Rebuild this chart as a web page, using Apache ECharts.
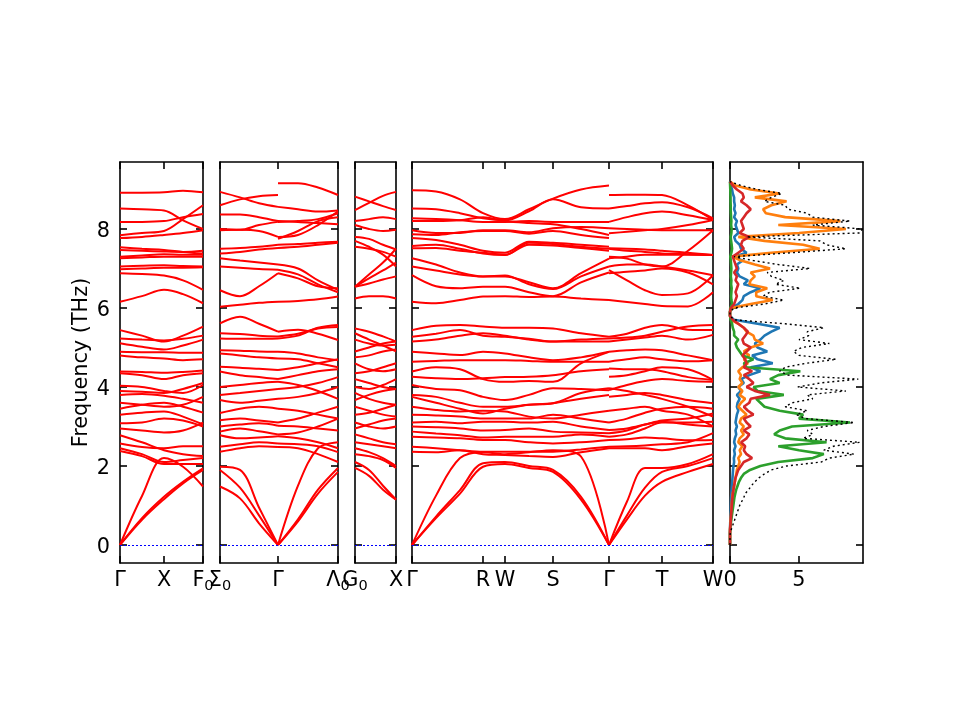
<!DOCTYPE html>
<html>
<head>
<meta charset="utf-8">
<script src="https://cdn.jsdelivr.net/npm/echarts@6/dist/echarts.min.js"></script>
<style>
  html, body { margin: 0; background: #fff; }
  #chart { width: 960px; height: 720px; }
</style>
</head>
<body>
<div id="chart"></div>
<script>
// frequency axis
const freqTicks = [0, 2, 4, 6, 8];

// high-symmetry points (path distance) and their labels, one list per panel
// labels use "{m|..}{s|..}" so the trailing index is drawn as a subscript
const p1Ticks = [0, 0.44, 0.83];
const p1Labels = ['{m|Γ}', '{m|X}', '{m|F}{s|0}'];
const p2Ticks = [0, 0.58, 1.18];
const p2Labels = ['{m|Σ}{s|0}', '{m|Γ}', '{m|Λ}{s|0}'];
const p3Ticks = [0, 0.41];
const p3Labels = ['{m|G}{s|0}', '{m|X}'];
const p4Ticks = [0, 0.71, 0.93, 1.41, 1.97, 2.50, 3.01];
const p4Labels = ['{m|Γ}', '{m|R}', '{m|W}', '{m|S}', '{m|Γ}', '{m|T}', '{m|W}'];
const dosTicks = [0, 5];
const dosLabels = ['{m|0}', '{m|5}'];

// sampled k points for each path segment
const kA = [0, 0.22, 0.44, 0.63, 0.83];          // Γ - X - F0
const kB = [0, 0.20, 0.39, 0.58];                // Σ0 - Γ
const kC = [0.58, 0.78, 0.98, 1.18];             // Γ - Λ0
const kD = [0, 0.14, 0.28, 0.41];                // G0 - X
const kE = [0, 0.24, 0.48, 0.71, 0.93, 1.17, 1.41, 1.69, 1.97]; // Γ-R-W-S-Γ
const kF = [1.97, 2.15, 2.33, 2.50, 2.76, 3.01]; // Γ - T - W

// band frequencies (THz), one row per band
const bandsA = [
  [8.92, 8.92, 8.93, 8.97, 8.93], [8.52, 8.5, 8.47, 8.22, 8.0], [8.18, 8.18, 8.2, 8.3, 8.38],
  [7.84, 7.9, 7.95, 8.25, 8.6], [7.77, 7.8, 7.85, 7.9, 7.97], [7.54, 7.5, 7.47, 7.42, 7.38],
  [7.47, 7.45, 7.43, 7.42, 7.45], [7.3, 7.33, 7.36, 7.35, 7.35], [7.26, 7.28, 7.3, 7.3, 7.3],
  [7.05, 7.07, 7.08, 7.06, 7.05], [6.98, 7.0, 7.02, 7.02, 7.03], [6.88, 6.86, 6.82, 6.7, 6.46],
  [6.16, 6.3, 6.46, 6.35, 6.12],
  [5.44, 5.3, 5.15, 5.3, 5.53], [5.23, 5.2, 5.18, 5.22, 5.3], [5.11, 5.02, 4.95, 5.05, 5.2],
  [4.89, 4.88, 4.88, 4.87, 4.87], [4.8, 4.75, 4.72, 4.68, 4.7], [4.39, 4.38, 4.36, 4.38, 4.42],
  [4.35, 4.3, 4.2, 4.3, 4.35], [4.03, 4.0, 3.9, 3.85, 4.05], [3.9, 3.88, 3.85, 3.95, 4.1],
  [3.8, 3.82, 3.78, 3.7, 3.6], [3.6, 3.55, 3.5, 3.55, 3.75], [3.45, 3.55, 3.6, 3.5, 3.35],
  [3.3, 3.35, 3.38, 3.25, 3.05], [3.08, 3.1, 3.2, 3.15, 3.0], [2.95, 2.9, 2.85, 2.9, 3.1],
  [2.78, 2.6, 2.4, 2.3, 2.25], [2.57, 2.48, 2.45, 2.5, 2.5], [2.45, 2.3, 2.1, 2.15, 2.2],
  [2.38, 2.25, 2.05, 2.05, 2.05],
  [0, 1.24, 2.2, 1.98, 1.48], [0, 0.68, 1.22, 1.6, 1.94], [0, 0.64, 1.16, 1.56, 1.9]
];
const bandsB = [
  [8.94, 8.8, 8.65, 8.56], [8.6, 8.75, 8.83, 8.86], [8.37, 8.37, 8.3, 8.2], [8.0, 7.98, 8.1, 8.18],
  [7.97, 7.98, 7.95, 7.8], [7.5, 7.52, 7.55, 7.6], [7.38, 7.42, 7.48, 7.52], [7.26, 7.2, 7.15, 7.1],
  [7.05, 7.02, 6.99, 6.97], [6.45, 6.3, 6.55, 6.88], [6.03, 6.08, 6.13, 6.16],
  [5.61, 5.78, 5.6, 5.4], [5.36, 5.34, 5.3, 5.28], [5.23, 5.22, 5.22, 5.23], [4.93, 4.92, 4.9, 4.89],
  [4.85, 4.8, 4.75, 4.72], [4.51, 4.49, 4.46, 4.43], [4.39, 4.3, 4.25, 4.2], [4.0, 4.05, 4.1, 4.13],
  [3.8, 3.85, 3.9, 3.95], [3.67, 3.6, 3.65, 3.7], [3.34, 3.45, 3.5, 3.45], [3.16, 3.2, 3.15, 3.1],
  [3.0, 3.05, 3.08, 3.02], [2.87, 2.95, 2.88, 2.8], [2.78, 2.7, 2.72, 2.75], [2.49, 2.55, 2.6, 2.57],
  [2.36, 2.45, 2.5, 2.48],
  [1.98, 1.9, 0.95, 0], [1.9, 1.45, 0.75, 0], [1.48, 1.18, 0.55, 0]
];
const bandsC = [
  [9.16, 9.16, 9.05, 8.86], [8.56, 8.5, 8.44, 8.47], [8.2, 8.18, 8.15, 8.12], [8.18, 8.2, 8.25, 8.4],
  [7.8, 7.85, 8.1, 8.45], [7.75, 7.95, 8.2, 8.3], [7.6, 7.62, 7.65, 7.68], [7.52, 7.55, 7.6, 7.65],
  [7.1, 7.0, 6.7, 6.46], [6.97, 6.85, 6.6, 6.4], [6.88, 6.75, 6.55, 6.5], [6.16, 6.18, 6.22, 6.29],
  [5.4, 5.45, 5.35, 5.19], [5.28, 5.35, 5.48, 5.52], [5.23, 5.3, 5.5, 5.57], [4.89, 4.85, 4.75, 4.68],
  [4.72, 4.7, 4.6, 4.5], [4.43, 4.5, 4.6, 4.7], [4.2, 4.3, 4.4, 4.45], [4.13, 4.05, 3.9, 3.7],
  [3.95, 4.0, 4.1, 4.25], [3.7, 3.75, 3.85, 4.0], [3.45, 3.4, 3.3, 3.2], [3.1, 3.2, 3.35, 3.5],
  [3.02, 3.0, 2.95, 2.9], [2.8, 2.85, 3.0, 3.2], [2.75, 2.7, 2.6, 2.45], [2.57, 2.55, 2.5, 2.35],
  [2.48, 2.45, 2.3, 2.1],
  [0, 1.5, 2.45, 2.6], [0, 0.65, 1.4, 1.95], [0, 0.6, 1.3, 1.85]
];
const bandsD = [
  [8.82, 8.7, 8.58, 8.48], [8.48, 8.66, 8.84, 8.94], [8.2, 8.25, 8.3, 8.25], [8.1, 8.0, 7.95, 7.98],
  [7.8, 7.75, 7.6, 7.48], [7.7, 7.55, 7.35, 7.05], [7.55, 7.5, 7.42, 7.3], [6.54, 6.85, 7.15, 7.5],
  [6.54, 6.75, 6.95, 7.15], [6.54, 6.62, 6.72, 6.8], [6.24, 6.3, 6.3, 6.24],
  [5.48, 5.4, 5.28, 5.15], [5.36, 5.2, 5.05, 4.9], [5.2, 5.1, 5.05, 5.07], [4.9, 5.0, 5.1, 5.15],
  [4.75, 4.8, 4.9, 4.95], [4.6, 4.45, 4.4, 4.45], [4.35, 4.4, 4.5, 4.6], [4.2, 4.1, 4.0, 3.95],
  [4.0, 3.95, 4.05, 4.2], [3.85, 3.7, 3.6, 3.55], [3.67, 3.8, 3.9, 3.95], [3.5, 3.4, 3.3, 3.25],
  [3.3, 3.35, 3.45, 3.55], [3.1, 3.0, 2.95, 3.0], [2.95, 3.05, 3.15, 3.2], [2.8, 2.7, 2.6, 2.55],
  [2.6, 2.55, 2.5, 2.45], [2.45, 2.35, 2.2, 2.0], [2.3, 2.25, 2.15, 1.95],
  [2.1, 1.9, 1.5, 1.15], [1.95, 1.75, 1.4, 1.15]
];
const bandsE = [
  [8.98, 8.95, 8.75, 8.4, 8.25, 8.5, 8.77, 9.0, 9.1],
  [8.52, 8.5, 8.4, 8.27, 8.22, 8.45, 8.75, 8.55, 8.52],
  [8.27, 8.25, 8.22, 8.18, 8.18, 8.2, 8.18, 8.18, 8.18],
  [8.2, 8.2, 8.22, 8.3, 8.2, 8.15, 8.12, 8.0, 7.85],
  [7.97, 7.9, 7.9, 7.97, 7.97, 7.92, 8.02, 8.05, 8.02],
  [7.87, 7.85, 7.92, 7.95, 7.95, 7.88, 7.95, 7.85, 7.77],
  [7.77, 7.72, 7.6, 7.45, 7.4, 7.68, 7.65, 7.6, 7.55],
  [7.57, 7.6, 7.5, 7.38, 7.34, 7.65, 7.62, 7.55, 7.5],
  [7.51, 7.52, 7.45, 7.4, 7.35, 7.6, 7.58, 7.52, 7.45],
  [7.26, 7.1, 6.9, 6.8, 6.8, 6.65, 6.5, 6.88, 7.25],
  [7.05, 6.95, 6.85, 6.8, 6.82, 6.6, 6.48, 6.8, 7.05],
  [6.83, 6.55, 6.5, 6.54, 6.54, 6.4, 6.3, 6.65, 6.9],
  [6.16, 6.12, 6.2, 6.29, 6.3, 6.28, 6.29, 6.24, 6.2],
  [5.44, 5.55, 5.57, 5.53, 5.5, 5.5, 5.48, 5.36, 5.27],
  [5.27, 5.35, 5.44, 5.3, 5.27, 5.22, 5.15, 5.2, 5.23],
  [5.15, 5.2, 5.3, 5.36, 5.3, 5.2, 5.15, 5.15, 5.15],
  [4.89, 4.85, 4.81, 4.89, 4.85, 4.75, 4.68, 4.75, 4.89],
  [4.64, 4.66, 4.68, 4.68, 4.68, 4.66, 4.64, 4.64, 4.64],
  [4.39, 4.5, 4.45, 4.2, 4.13, 4.15, 4.13, 4.6, 4.89],
  [4.26, 4.22, 4.2, 4.22, 4.25, 4.26, 4.3, 4.4, 4.45],
  [4.05, 3.95, 3.92, 3.75, 3.67, 3.8, 3.97, 3.95, 3.92],
  [3.8, 3.75, 3.6, 3.5, 3.5, 3.55, 3.59, 3.7, 3.8],
  [3.75, 3.6, 3.45, 3.33, 3.45, 3.55, 3.59, 3.85, 3.97],
  [3.5, 3.42, 3.38, 3.4, 3.38, 3.25, 3.2, 3.3, 3.4],
  [3.3, 3.28, 3.25, 3.2, 3.2, 3.2, 3.3, 3.2, 3.1],
  [3.1, 3.12, 3.08, 3.12, 3.12, 3.1, 3.12, 3.0, 2.91],
  [3.0, 2.98, 2.95, 2.9, 2.91, 2.95, 2.87, 2.85, 2.83],
  [2.87, 2.82, 2.78, 2.72, 2.74, 2.74, 2.74, 2.8, 2.74],
  [2.74, 2.72, 2.7, 2.66, 2.66, 2.6, 2.57, 2.6, 2.66],
  [2.49, 2.45, 2.4, 2.36, 2.36, 2.36, 2.36, 2.42, 2.49],
  [2.36, 2.35, 2.4, 2.3, 2.28, 2.25, 2.23, 2.35, 2.45],
  [0, 1.25, 2.2, 2.35, 2.3, 2.35, 2.4, 2.24, 0],
  [0, 0.72, 1.39, 2.07, 2.1, 2.0, 1.9, 1.22, 0],
  [0, 0.68, 1.3, 1.98, 2.05, 1.95, 1.85, 1.15, 0]
];
const bandsF = [
  [8.86, 8.87, 8.87, 8.86, 8.6, 8.23], [8.52, 8.58, 8.65, 8.68, 8.55, 8.27],
  [8.18, 8.3, 8.4, 8.44, 8.35, 8.23], [7.89, 7.93, 7.97, 8.0, 8.1, 8.23],
  [8.02, 8.0, 7.98, 7.97, 7.97, 7.97], [7.51, 7.5, 7.48, 7.45, 7.4, 7.34],
  [7.5, 7.45, 7.42, 7.38, 7.36, 7.34], [7.3, 7.25, 7.1, 7.05, 7.45, 7.97],
  [7.26, 7.3, 7.35, 7.35, 7.35, 7.34], [7.05, 7.1, 7.1, 7.05, 6.95, 6.83],
  [6.96, 6.7, 6.45, 6.33, 6.37, 6.83], [6.88, 6.92, 6.95, 7.0, 6.9, 6.6],
  [6.2, 6.15, 6.1, 6.05, 6.04, 6.4],
  [5.27, 5.35, 5.5, 5.57, 5.45, 5.44], [5.23, 5.25, 5.3, 5.4, 5.53, 5.57],
  [5.15, 5.2, 5.25, 5.3, 5.2, 5.32], [4.89, 4.93, 4.95, 4.93, 4.8, 4.68],
  [4.64, 4.7, 4.75, 4.7, 4.65, 4.68], [4.47, 4.45, 4.45, 4.4, 4.25, 4.18],
  [4.26, 4.3, 4.4, 4.5, 4.45, 4.18], [3.92, 4.05, 4.15, 4.2, 4.15, 4.13],
  [3.75, 3.8, 3.85, 3.8, 3.67, 3.59], [3.97, 3.9, 3.8, 3.7, 3.5, 3.25],
  [3.4, 3.45, 3.5, 3.4, 3.3, 3.0], [3.1, 3.2, 3.35, 3.45, 3.5, 3.45],
  [2.91, 2.95, 3.05, 3.15, 3.2, 3.33], [2.83, 2.9, 3.05, 3.12, 3.05, 3.0],
  [2.74, 2.8, 2.95, 3.1, 3.1, 3.12], [2.66, 2.68, 2.72, 2.7, 2.65, 2.66],
  [2.49, 2.5, 2.52, 2.55, 2.6, 2.83], [2.45, 2.45, 2.45, 2.4, 2.5, 2.57],
  [0, 1.1, 1.95, 1.95, 2.05, 2.3], [0, 0.75, 1.45, 1.85, 2.0, 2.2], [0, 0.65, 1.25, 1.6, 1.85, 2.05]
];

// density of states, sampled on a frequency grid (THz)
const dosFreq = [
  0.0, 0.1, 0.2, 0.3, 0.4, 0.5, 0.6, 0.7, 0.8, 0.9,
  1.0, 1.1, 1.2, 1.3, 1.4, 1.5, 1.6, 1.7, 1.8, 1.9,
  2.0, 2.1, 2.2, 2.3, 2.4, 2.5, 2.6, 2.7, 2.8, 2.9,
  3.0, 3.1, 3.2, 3.3, 3.4, 3.5, 3.6, 3.7, 3.8, 3.9,
  4.0, 4.1, 4.2, 4.3, 4.4, 4.5, 4.6, 4.7, 4.8, 4.9,
  5.0, 5.1, 5.2, 5.3, 5.4, 5.5, 5.6, 5.7, 5.8, 5.9,
  6.0, 6.1, 6.2, 6.3, 6.4, 6.5, 6.6, 6.7, 6.8, 6.9,
  7.0, 7.1, 7.2, 7.3, 7.4, 7.5, 7.6, 7.7, 7.8, 7.9,
  8.0, 8.1, 8.2, 8.3, 8.4, 8.5, 8.6, 8.7, 8.8, 8.9,
  9.0, 9.1, 9.2
];
const dosTotal = [
  0, 0, 0, 0.02, 0.1, 0.2, 0.3, 0.4, 0.5, 0.6,
  0.7, 0.85, 1.0, 1.1, 1.35, 1.55, 1.8, 2.1, 2.5, 3.0,
  4.1, 6.6, 7.2, 9.0, 6.8, 7.5, 9.4, 5.3, 6.0, 5.6,
  6.8, 9.0, 5.5, 4.8, 5.6, 4.0, 4.5, 6.0, 5.6, 8.4,
  4.9, 6.5, 9.3, 4.2, 3.6, 4.0, 5.5, 7.7, 5.0, 4.6,
  5.2, 7.2, 5.0, 5.7, 5.6, 6.8, 4.0, 0.3, 0, 0,
  0.3, 2.5, 3.9, 2.4, 2.9, 5.1, 3.3, 3.9, 3.0, 2.7,
  5.8, 3.5, 1.7, 0.3, 4.5, 8.4, 7.0, 6.5, 1.2, 9.4,
  9.6, 6.0, 8.7, 6.0, 5.6, 4.2, 4.0, 2.5, 3.0, 3.75,
  2.0, 0.8, 0
];
const dosBlue = [
  0, 0, 0, 0, 0, 0.01, 0.02, 0.03, 0.04, 0.05,
  0.06, 0.07, 0.08, 0.1, 0.12, 0.14, 0.16, 0.18, 0.2, 0.22,
  0.25, 0.3, 0.28, 0.35, 0.3, 0.4, 0.3, 0.35, 0.45, 0.4,
  0.5, 0.4, 0.45, 0.5, 0.6, 0.5, 0.55, 0.7, 0.5, 0.8,
  0.6, 1.0, 0.8, 1.4, 2.2, 1.5, 3.1, 2.0, 1.6, 2.7,
  2.0, 1.8, 2.2, 2.5, 3.0, 3.6, 2.0, 0.3, 0, 0,
  0.1, 0.6, 0.9, 1.0, 1.5, 2.2, 1.0, 1.3, 0.7, 0.5,
  0.6, 0.5, 0.9, 0.3, 1.2, 0.8, 0.7, 0.4, 0.3, 0.6,
  0.5, 0.4, 0.5, 0.3, 0.4, 0.3, 0.35, 0.3, 0.3, 0.2,
  0.15, 0.05, 0
];
const dosOrange = [
  0, 0, 0, 0, 0, 0.02, 0.04, 0.06, 0.08, 0.1,
  0.12, 0.14, 0.16, 0.2, 0.25, 0.3, 0.35, 0.4, 0.45, 0.5,
  0.6, 0.7, 0.6, 0.8, 0.7, 0.9, 0.6, 0.7, 1.0, 0.8,
  1.0, 0.7, 0.8, 1.2, 0.9, 0.6, 0.8, 1.1, 0.7, 0.9,
  0.6, 0.9, 0.7, 0.8, 0.6, 0.9, 1.3, 1.0, 1.4, 1.0,
  1.5, 2.4, 1.8, 1.7, 1.2, 1.0, 0.6, 0.1, 0, 0,
  0.1, 1.5, 3.1, 1.9, 1.9, 2.7, 1.4, 1.5, 1.8, 1.5,
  2.9, 1.8, 0.8, 0.15, 3.0, 6.5, 5.3, 2.5, 0.6, 5.0,
  8.4, 3.5, 8.0, 4.0, 2.6, 2.4, 3.0, 4.1, 1.8, 3.6,
  1.5, 0.4, 0
];
const dosGreen = [
  0, 0, 0, 0, 0.02, 0.05, 0.08, 0.12, 0.16, 0.2,
  0.24, 0.28, 0.32, 0.38, 0.45, 0.55, 0.65, 0.8, 1.0, 1.45,
  2.2, 3.5, 6.0, 6.8, 5.0, 3.5, 7.0, 4.0, 3.2, 3.6,
  4.5, 8.7, 5.0, 5.3, 3.6, 2.5, 2.2, 1.9, 3.9, 2.0,
  1.7, 3.6, 2.9, 3.5, 5.1, 1.2, 1.0, 1.7, 0.9, 0.7,
  0.5, 0.4, 0.6, 0.3, 0.3, 0.2, 0.15, 0.05, 0, 0,
  0.02, 0.15, 0.1, 0.08, 0.1, 0.12, 0.08, 0.1, 0.06, 0.08,
  0.1, 0.08, 0.06, 0.02, 0.1, 0.15, 0.12, 0.08, 0.05, 0.1,
  0.12, 0.08, 0.1, 0.08, 0.06, 0.05, 0.05, 0.04, 0.04, 0.03,
  0.02, 0.01, 0
];
const dosRed = [
  0, 0, 0, 0, 0.01, 0.03, 0.05, 0.07, 0.09, 0.11,
  0.13, 0.15, 0.18, 0.21, 0.25, 0.3, 0.35, 0.4, 0.5, 0.6,
  0.8, 1.0, 1.6, 1.2, 1.0, 1.1, 0.8, 1.2, 1.4, 1.0,
  1.5, 1.2, 1.0, 1.7, 1.3, 1.0, 1.4, 1.5, 2.9, 1.8,
  1.2, 1.7, 1.4, 1.0, 1.6, 1.0, 1.2, 1.1, 0.9, 1.2,
  1.5, 1.0, 0.9, 1.1, 1.3, 1.0, 0.6, 0.2, 0, 0,
  0.05, 0.3, 0.4, 0.5, 0.4, 0.5, 0.6, 0.4, 0.5, 0.3,
  0.5, 0.4, 0.3, 0.2, 0.6, 1.0, 0.8, 0.9, 1.4, 0.7,
  1.0, 0.9, 0.8, 1.0, 1.2, 1.5, 1.2, 0.8, 1.0, 0.9,
  0.5, 0.2, 0
];

// layout
const font = 'DejaVu Sans';
const fs = 20.8;
const yMin = -0.456, yMax = 9.696;
const panels = [
  { left: 120, width: 83, max: 0.83, ticks: p1Ticks, labels: p1Labels },
  { left: 220, width: 118, max: 1.18, ticks: p2Ticks, labels: p2Labels },
  { left: 355, width: 41, max: 0.41, ticks: p3Ticks, labels: p3Labels },
  { left: 412, width: 301, max: 3.01, ticks: p4Ticks, labels: p4Labels },
  { left: 730, width: 133, max: 9.64, ticks: dosTicks, labels: dosLabels }
];

const frame = { show: true, onZero: false, lineStyle: { color: '#000', width: 1.6 } };
const tickStyle = { color: '#000', width: 1.6 };
const labelRich = {
  m: { fontFamily: font, fontSize: fs, lineHeight: 26, color: '#000' },
  s: { fontFamily: font, fontSize: 14.5, lineHeight: 14.5, color: '#000', padding: [11, 0, 0, 0] }
};
const yRich = {
  y: { fontFamily: font, fontSize: fs, lineHeight: fs, color: '#000', padding: [5, 0, 0, 0] }
};

const grid = [], xAxis = [], yAxis = [];
panels.forEach((p, i) => {
  grid.push({ left: p.left, width: p.width, top: 162, height: 401 });
  const fmt = v => {
    const j = p.ticks.findIndex(t => Math.abs(t - v) < 1e-6);
    return j >= 0 ? p.labels[j] : '';
  };
  ['bottom', 'top'].forEach(pos => {
    xAxis.push({
      gridIndex: i, type: 'value', min: 0, max: p.max, position: pos,
      axisLine: frame,
      axisTick: { show: true, inside: true, length: 7, customValues: p.ticks, lineStyle: tickStyle },
      axisLabel: {
        show: pos === 'bottom', customValues: p.ticks, formatter: fmt,
        showMinLabel: true, showMaxLabel: true,
        color: '#000', fontFamily: font, fontSize: fs, margin: 5, rich: labelRich
      },
      splitLine: { show: false }
    });
  });
  ['left', 'right'].forEach(pos => {
    const ax = {
      gridIndex: i, type: 'value', min: yMin, max: yMax, position: pos,
      axisLine: frame,
      axisTick: { show: true, inside: true, length: 7, customValues: freqTicks, lineStyle: tickStyle },
      axisLabel: {
        show: i === 0 && pos === 'left', customValues: freqTicks,
        formatter: v => '{y|' + v + '}', rich: yRich,
        color: '#000', fontFamily: font, fontSize: fs, margin: 10
      },
      splitLine: { show: false }
    };
    if (i === 0 && pos === 'left') {
      ax.name = 'Frequency (THz)';
      ax.nameLocation = 'middle';
      ax.nameGap = 28;
      ax.nameRotate = 90;
      ax.nameTextStyle = { color: '#000', fontFamily: font, fontSize: fs };
    }
    yAxis.push(ax);
  });
});

const series = [];
function addBands(k, bands, panel, withZero) {
  bands.forEach((b, n) => {
    const s = {
      type: 'line', xAxisIndex: panel * 2, yAxisIndex: panel * 2,
      data: b.map((f, j) => [k[j], f]),
      showSymbol: false, smooth: 0.35, silent: true,
      lineStyle: { color: '#ff0000', width: 2 }
    };
    if (withZero && n === 0) {
      s.markLine = {
        silent: true, symbol: 'none', label: { show: false }, animation: false,
        lineStyle: { color: '#0000ff', type: [2, 2], width: 1.2 },
        data: [{ yAxis: 0 }]
      };
    }
    series.push(s);
  });
}
addBands(kA, bandsA, 0, true);
addBands(kB, bandsB, 1, true);
addBands(kC, bandsC, 1, false);
addBands(kD, bandsD, 2, true);
addBands(kE, bandsE, 3, true);
addBands(kF, bandsF, 3, false);

function addDos(vals, color, width, type) {
  series.push({
    type: 'line', xAxisIndex: 8, yAxisIndex: 8,
    data: vals.map((v, j) => [v, dosFreq[j]]),
    showSymbol: false, silent: true,
    lineStyle: { color: color, width: width, type: type }
  });
}
addDos(dosBlue, '#1f77b4', 2.6, 'solid');
addDos(dosOrange, '#ff7f0e', 2.6, 'solid');
addDos(dosGreen, '#2ca02c', 2.6, 'solid');
addDos(dosRed, '#d62728', 2.6, 'solid');
addDos(dosTotal, '#000000', 1.4, [2, 3]);

const chart = echarts.init(document.getElementById('chart'));
chart.setOption({
  backgroundColor: '#fff',
  animation: false,
  grid: grid,
  xAxis: xAxis,
  yAxis: yAxis,
  series: series
});
</script>
</body>
</html>
